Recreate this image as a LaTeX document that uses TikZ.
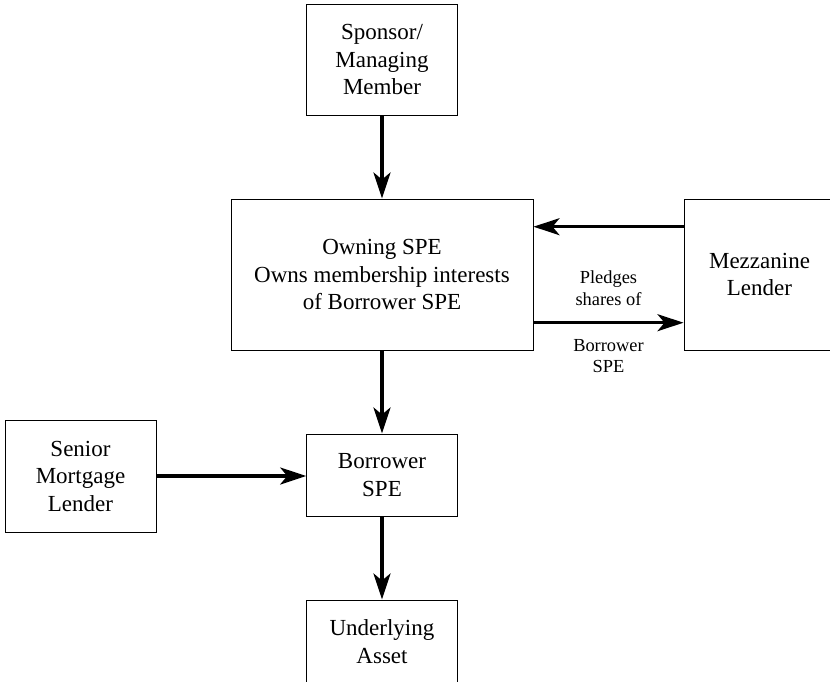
\documentclass[tikz,border=0pt]{standalone}
\usepackage{fontspec}
\setmainfont{Liberation Serif}
\newfontfamily\tnr{Liberation Serif}
\usetikzlibrary{arrows.meta}
\tikzset{
  box/.style={draw=black, line width=1pt, rectangle, inner sep=0pt, align=center,
    font=\tnr\fontsize{23}{27.5}\selectfont},
  arr/.style={line width=3.3pt, -{Stealth[length=26pt, width=17pt, inset=7pt]}},
  lbl/.style={inner sep=0pt, anchor=base, font=\tnr\fontsize{18.4}{22}\selectfont}
}
\begin{document}
\begin{tikzpicture}[x=1pt, y=-1pt]
\useasboundingbox (0,0) rectangle (830,681);
\node[box, minimum width=150.6pt, minimum height=111pt] (sponsor) at (382,59.5) {Sponsor/\\Managing\\Member};
\node[box, minimum width=302pt, minimum height=151pt] (owning) at (382,274.5) {Owning SPE\\Owns membership interests\\of Borrower SPE};
\node[box, minimum width=151pt, minimum height=151pt] (mezz) at (759.5,274.5) {Mezzanine\\Lender};
\node[box, minimum width=151pt, minimum height=112pt] (senior) at (80.5,476) {Senior\\Mortgage\\Lender};
\node[box, minimum width=150.6pt, minimum height=82pt] (borrower) at (382,475) {Borrower\\SPE};
\node[box, minimum width=150.6pt, minimum height=83pt] (asset) at (382,641.5) {Underlying\\Asset};

\draw[arr] (sponsor.south) -- (owning.north);
\draw[arr] ([yshift=47.8pt]mezz.west) -- ([yshift=47.8pt]owning.east);
\draw[arr] ([yshift=-48.2pt]owning.east) -- ([yshift=-48.2pt]mezz.west);
\draw[arr] (owning.south) -- (borrower.north);
\draw[arr] (senior.east) -- (senior.east -| borrower.west);
\draw[arr] (borrower.south) -- (asset.north);

\node[lbl] (pl1) at (608.5,283) {Pledges};
\node[lbl] (pl2) at (608.5,305) {shares of};
\node[lbl] (br1) at (608.5,351) {Borrower};
\node[lbl] (br2) at (608.5,372.7) {SPE};
\end{tikzpicture}
\end{document}
